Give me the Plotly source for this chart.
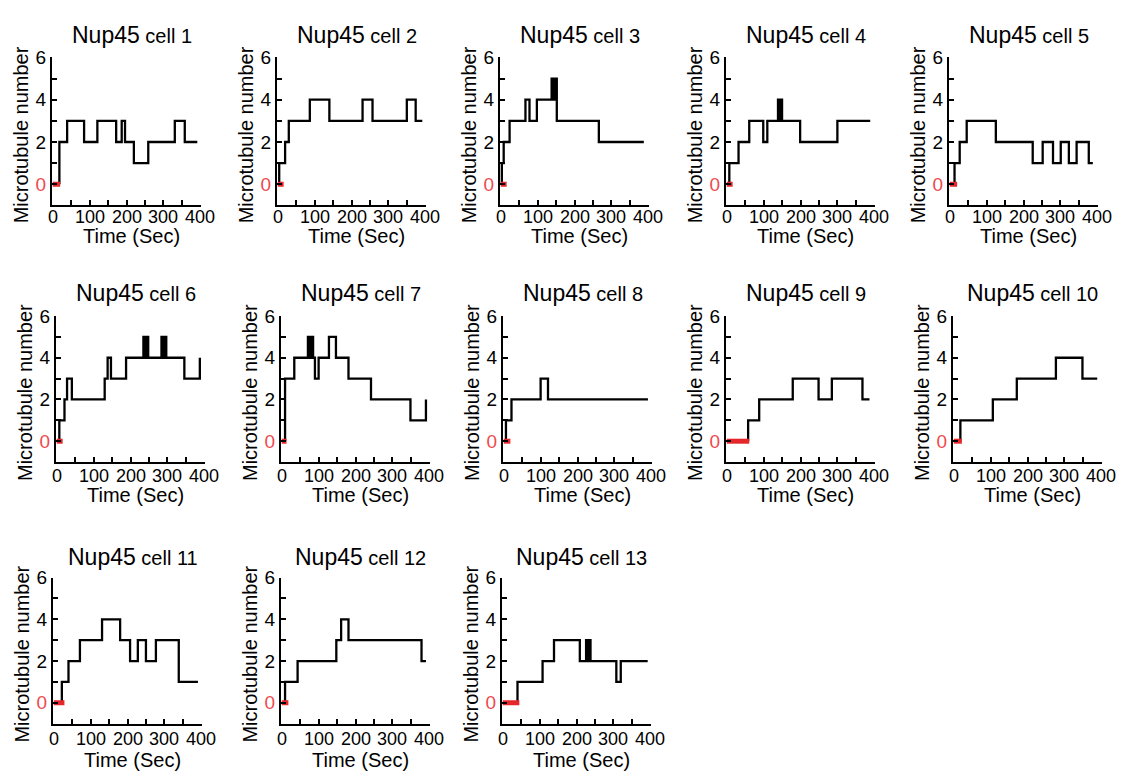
import plotly.graph_objects as go

# ---------------- data ----------------
cells = ["cell 1", "cell 2", "cell 3", "cell 4", "cell 5", "cell 6", "cell 7",
         "cell 8", "cell 9", "cell 10", "cell 11", "cell 12", "cell 13"]

# red zero-period end time (sec)
red_end = [20, 16, 16, 16, 20, 16, 13, 18, 61, 22, 29, 18, 45]

# change times and microtubule numbers; last time = end of trace
c1_t = [18, 39, 85, 121, 172, 187, 196, 220, 259, 331, 358, 392]
c1_v = [2, 3, 2, 3, 2, 3, 2, 1, 2, 3, 2]
c2_t = [4, 20, 30, 87, 140, 230, 257, 350, 374, 392]
c2_v = [1, 2, 3, 4, 3, 4, 3, 4, 3]
c3_t = [3, 8, 24, 67, 78, 98, 138, 144, 147, 152, 266, 388]
c3_v = [1, 2, 3, 4, 3, 4, 5, 4, 5, 3, 2]
c4_t = [7, 32, 61, 99, 110, 139, 143, 146, 150, 199, 300, 389]
c4_v = [1, 2, 3, 2, 3, 4, 3, 4, 3, 2, 3]
c5_t = [13, 27, 46, 125, 225, 252, 280, 301, 323, 344, 377, 388]
c5_v = [1, 2, 3, 2, 1, 2, 1, 2, 1, 2, 1]
c6_t = [7, 21, 28, 41, 130, 138, 147, 188, 235, 240, 243, 248, 284, 289, 292, 297, 346, 388, 388]
c6_v = [1, 2, 3, 2, 3, 4, 3, 4, 5, 4, 5, 4, 5, 4, 5, 4, 3, 4]
c7_t = [9, 34, 71, 76, 80, 85, 90, 100, 128, 147, 181, 242, 349, 391, 391]
c7_v = [3, 4, 5, 4, 5, 4, 3, 4, 5, 4, 3, 2, 1, 2]
c8_t = [6, 21, 100, 120, 391]
c8_v = [1, 2, 3, 2]
c9_t = [58, 88, 179, 249, 285, 368, 387]
c9_v = [1, 2, 3, 2, 3, 2]
c10_t = [18, 106, 171, 277, 349, 389]
c10_v = [1, 2, 3, 4, 3]
c11_t = [22, 40, 71, 131, 180, 207, 228, 250, 277, 339, 391]
c11_v = [1, 2, 3, 4, 3, 2, 3, 2, 3, 1]
c12_t = [9, 43, 148, 161, 181, 379, 391]
c12_v = [1, 2, 3, 4, 3, 2]
c13_t = [40, 108, 139, 209, 226, 230, 234, 238, 308, 320, 393]
c13_v = [1, 2, 3, 2, 3, 2, 3, 2, 1, 2]

times = [c1_t, c2_t, c3_t, c4_t, c5_t, c6_t, c7_t, c8_t, c9_t, c10_t, c11_t, c12_t, c13_t]
values = [c1_v, c2_v, c3_v, c4_v, c5_v, c6_v, c7_v, c8_v, c9_v, c10_v, c11_v, c12_v, c13_v]

x_tickvals = [0, 50, 100, 150, 200, 250, 300, 350, 400]
x_labelvals = [0, 100, 200, 300, 400]
x_labeltext = ["0", "100", "200", "300", "400"]
y_tickvals = [0, 1, 2, 3, 4, 5, 6]

# ---------------- layout geometry (pixels) ----------------
W, H = 1124, 773
RED = "#e5262b"
LABEL_RED = "#ee4a50"
FONT = "Liberation Sans, Arial, sans-serif"

row_lefts = [[52, 277, 500, 726, 949], [56, 281, 503, 726, 953], [53, 281, 502]]
panel_w = 149
row_tb = [(48, 198), (310, 458), (575, 723)]
row_label_gap = [12, 14, 16]
row_title_gap = [23, 23, 21]
row_xtitle_gap = [31, 33, 37]

fig = go.Figure()
annotations = []

y_ticktext = ["<span style='color:%s'>0</span>" % LABEL_RED, "", "2", "", "4", "", "6"]

for i in range(13):
    r, c = divmod(i, 5)
    left = row_lefts[r][c]
    top, bottom = row_tb[r]
    n = i + 1
    xa = "x" if n == 1 else "x%d" % n
    ya = "y" if n == 1 else "y%d" % n
    xkey = "xaxis" if n == 1 else "xaxis%d" % n
    ykey = "yaxis" if n == 1 else "yaxis%d" % n

    t = times[i]
    v = values[i]
    xs = [t[0]] + t
    ys = [0] + v + [v[-1]]
    fig.add_trace(go.Scatter(x=xs, y=ys, mode="lines", line_shape="hv",
                             line=dict(color="black", width=2.3), xaxis=xa, yaxis=ya,
                             showlegend=False))
    # red zero segment
    fig.add_trace(go.Scatter(x=[0, red_end[i]], y=[0, 0], mode="lines",
                             line=dict(color=RED, width=5), xaxis=xa, yaxis=ya,
                             showlegend=False, hoverinfo="skip"))

    common = dict(showline=True, linecolor="black", linewidth=2, ticks="inside",
                  tickwidth=2, ticklen=5, tickcolor="black", showgrid=False,
                  zeroline=False, fixedrange=True,
                  tickfont=dict(family=FONT, size=19, color="black"))
    fig.layout[xkey] = dict(domain=[left / W, (left + panel_w) / W], anchor=ya,
                            range=[-2, 402], tickmode="array", tickvals=x_tickvals,
                            showticklabels=False, **common)
    fig.layout[ykey] = dict(domain=[1 - bottom / H, 1 - top / H], anchor=xa,
                            range=[-1, 6], tickmode="array", tickvals=y_tickvals,
                            ticktext=y_ticktext, **common)

    # x tick labels placed on the axis scale
    for val, txt in zip(x_labelvals, x_labeltext):
        annotations.append(dict(x=val, xref=xa, y=1 - (bottom + row_label_gap[r]) / H,
                                yref="paper", text=txt, showarrow=False,
                                font=dict(family=FONT, size=18, color="black"),
                                xanchor="center", yanchor="middle"))

    cx = (left + panel_w / 2 + 5) / W
    annotations.append(dict(x=cx, y=1 - (top - row_title_gap[r]) / H, xref="paper", yref="paper",
                            text="Nup45<span style='font-size:20px'> %s</span>" % cells[i],
                            showarrow=False, font=dict(family=FONT, size=23, color="black"),
                            xanchor="center", yanchor="middle"))
    annotations.append(dict(x=(left - 31) / W, y=1 - ((top + bottom) / 2 + 4) / H,
                            xref="paper", yref="paper", text="Microtubule number",
                            textangle=-90, showarrow=False,
                            font=dict(family=FONT, size=20, color="black"),
                            xanchor="center", yanchor="middle"))
    annotations.append(dict(x=(left + panel_w / 2 + 5) / W, y=1 - (bottom + row_xtitle_gap[r]) / H,
                            xref="paper", yref="paper", text="Time (Sec)",
                            showarrow=False, font=dict(family=FONT, size=20, color="black"),
                            xanchor="center", yanchor="middle"))

fig.update_layout(width=W, height=H, margin=dict(l=0, r=0, t=0, b=0),
                  plot_bgcolor="white", paper_bgcolor="white",
                  annotations=annotations, showlegend=False)

post = ("var gd=document.getElementsByClassName('plotly-graph-div')[0];"
        "gd.style.position='fixed';gd.style.left='0px';gd.style.top='0px';"
        "document.body.style.margin='0';document.documentElement.style.overflow='hidden';")
fig.write_html("out.html", config={"displayModeBar": False}, post_script=post)
